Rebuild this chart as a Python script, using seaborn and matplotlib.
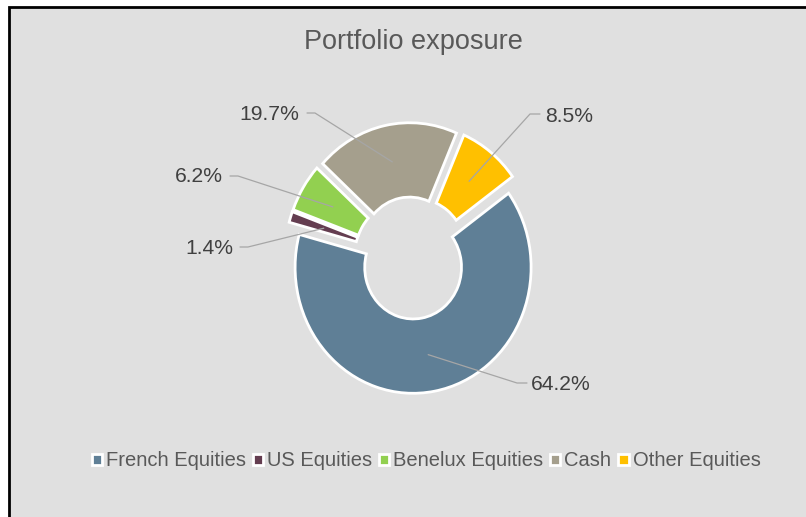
import matplotlib
matplotlib.use("Agg")
import matplotlib.pyplot as plt
from matplotlib import font_manager
from matplotlib.patches import Rectangle
import numpy as np
import seaborn as sns

# data
categories = ['French Equities', 'US Equities', 'Benelux Equities', 'Cash', 'Other Equities']
shares = [64.2, 1.4, 6.2, 19.7, 8.5]
slice_colors = ['#5F7F96', '#643D50', '#92D050', '#A59F8D', '#FFC000']

sns.set_theme(style="white")
installed = {f.name for f in font_manager.fontManager.ttflist}
narrow = 'Liberation Sans Narrow' in installed
fam = ['Liberation Sans Narrow' if narrow else 'Liberation Sans', 'DejaVu Sans']
k = 1 / 0.82 if narrow else 1.0
plt.rcParams['font.family'] = fam

W, H = 806, 517
fig = plt.figure(figsize=(W / 100, H / 100), dpi=100, facecolor='white')

# chart area background with the black frame on left/top
fig.patches.append(Rectangle((8.5 / W, -0.1), 1.2, 1 - 6.5 / H + 0.1, transform=fig.transFigure,
                             facecolor='#E0E0E0', edgecolor='black', linewidth=2, zorder=-5))

ax = fig.add_axes([0, 0, 1, 1])
ax.patch.set_alpha(0)

# pie geometry in pixels (the source is slightly squashed horizontally)
cx, cy, rx, ry = 411.5, 258, 118, 126
hole = 0.41

wedges, _ = ax.pie(shares, colors=slice_colors, startangle=36, counterclock=False,
                   explode=[0.075] * len(shares),
                   wedgeprops=dict(width=1 - hole, edgecolor='white', linewidth=2))
ax.set_xlim(-cx / rx, (W - cx) / rx)
ax.set_ylim(-(H - cy) / ry, cy / ry)
ax.set_aspect('auto')
ax.axis('off')


def to_data(px, py):
    return (px - cx) / rx, (cy - py) / ry


# label layout: (text x, text y, ha, elbow x, elbow y, end x)
layout = [
    (531, 385, 'left', 517, 383, 527),
    (233, 248, 'right', 248, 247, 240),
    (223, 177, 'right', 238, 176, 230),
    (299, 114, 'right', 315, 113, 307),
    (545, 116, 'left', 530, 114, 540),
]

for w, val, (tx, ty, ha, ex, ey, hx) in zip(wedges, shares, layout):
    mid = np.deg2rad((w.theta1 + w.theta2) / 2)
    r0 = (1 + hole) / 2
    sx = w.center[0] + r0 * np.cos(mid)
    sy = w.center[1] + r0 * np.sin(mid)
    exd, eyd = to_data(ex, ey)
    hxd, _ = to_data(hx, ey)
    ax.plot([sx, exd, hxd], [sy, eyd, eyd], color='#A6A6A6', linewidth=0.9, zorder=5)
    txd, tyd = to_data(tx, ty)
    ax.text(txd, tyd, f'{val:.1f}%', ha=ha, va='center', fontsize=15.2 * k, color='#404040')

fig.text(413 / W, 1 - 42 / H, 'Portfolio exposure', ha='center', va='center',
         fontsize=19.5 * k, color='#595959')

fig.legend(wedges, categories, loc='center', bbox_to_anchor=(426 / W, 1 - 461 / H), ncol=5,
           frameon=False, fontsize=14.5 * k, labelcolor='#595959', handlelength=0.5,
           handleheight=0.5, handletextpad=0.2, columnspacing=0.35, borderaxespad=0)

fig.savefig('out.png', dpi=100, facecolor='white')
